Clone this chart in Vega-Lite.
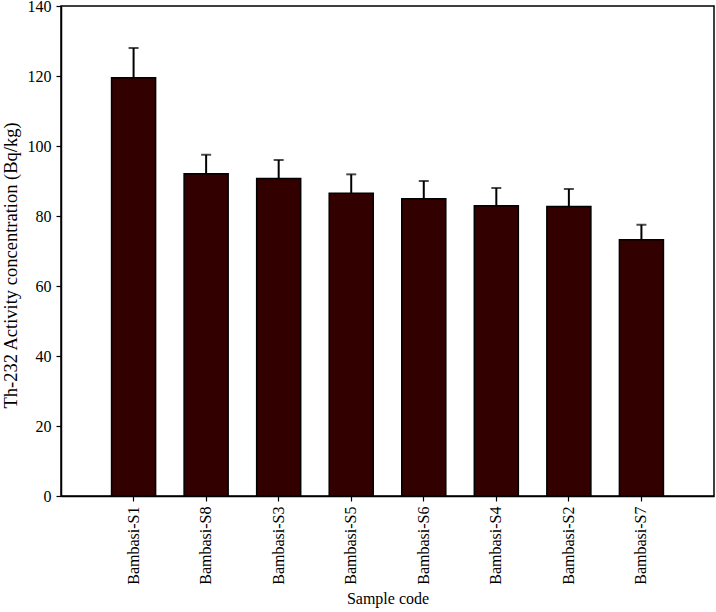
{
  "$schema": "https://vega.github.io/schema/vega-lite/v6.json",
  "width": 653,
  "height": 490,
  "autosize": "none",
  "padding": {"left": 61, "top": 6, "right": 2, "bottom": 116},
  "background": "white",
  "config": {
    "view": {"stroke": "black", "strokeWidth": 1.5},
    "font": "Liberation Serif",
    "axis": {
      "domainColor": "black", "domainWidth": 1.5,
      "tickColor": "black", "tickWidth": 1.2, "tickSize": 5,
      "labelColor": "black", "titleColor": "black",
      "labelFont": "Liberation Serif", "titleFont": "Liberation Serif",
      "labelFontSize": 16, "titleFontSize": 16, "titleFontWeight": "normal",
      "grid": false
    }
  },
  "data": {
    "values": [
      {"sample": "Bambasi-S1", "value": 119.5, "upper": 128.0},
      {"sample": "Bambasi-S8", "value": 92.1, "upper": 97.5},
      {"sample": "Bambasi-S3", "value": 90.7, "upper": 96.0},
      {"sample": "Bambasi-S5", "value": 86.5, "upper": 91.9},
      {"sample": "Bambasi-S6", "value": 84.9, "upper": 90.0},
      {"sample": "Bambasi-S4", "value": 82.9, "upper": 88.0},
      {"sample": "Bambasi-S2", "value": 82.7, "upper": 87.7},
      {"sample": "Bambasi-S7", "value": 73.2, "upper": 77.5}
    ]
  },
  "encoding": {
    "x": {
      "field": "sample", "type": "nominal", "sort": null,
      "scale": {"paddingInner": 0.393, "paddingOuter": 0.697},
      "axis": {"title": "Sample code", "labelAngle": -90, "labelPadding": 5, "titlePadding": 6}
    }
  },
  "layer": [
    {
      "mark": {"type": "rule", "color": "black", "strokeWidth": 2},
      "encoding": {
        "y": {"field": "value", "type": "quantitative"},
        "y2": {"field": "upper"}
      }
    },
    {
      "mark": {"type": "tick", "color": "black", "thickness": 2, "size": 10},
      "encoding": {
        "y": {"field": "upper", "type": "quantitative"}
      }
    },
    {
      "mark": {"type": "bar", "color": "#330000", "stroke": "black", "strokeWidth": 1.5},
      "encoding": {
        "y": {
          "field": "value", "type": "quantitative",
          "scale": {"domain": [0, 140], "nice": false},
          "axis": {"title": "Th-232 Activity concentration (Bq/kg)", "titleFontSize": 18.5, "titleY": 259, "values": [0, 20, 40, 60, 80, 100, 120, 140], "labelPadding": 5, "titlePadding": 7}
        }
      }
    }
  ]
}
